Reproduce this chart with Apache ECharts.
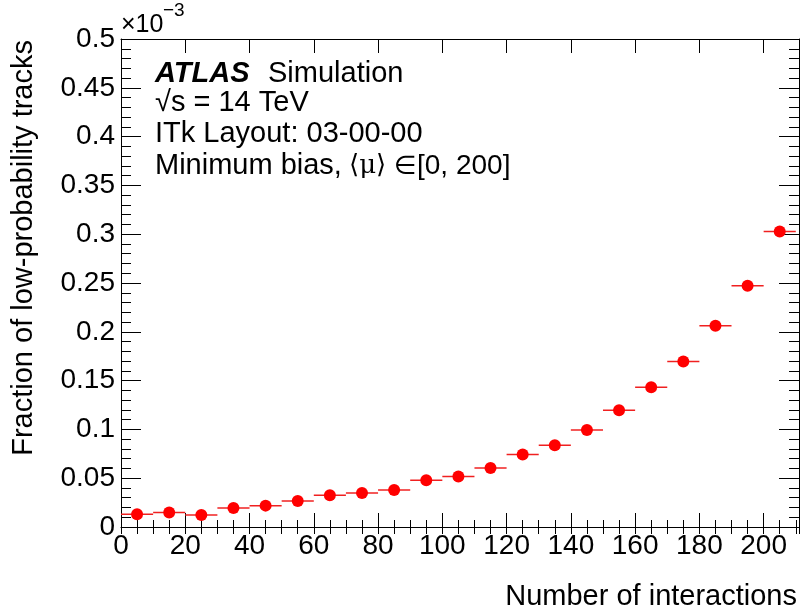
<!DOCTYPE html>
<html>
<head>
<meta charset="utf-8">
<script src="https://cdn.jsdelivr.net/npm/echarts@6/dist/echarts.min.js"></script>
<style>
  html, body { margin: 0; padding: 0; background: #fff; }
  #chart { width: 801px; height: 610px; }
</style>
</head>
<body>
<div id="chart"></div>
<script>
// bin centres (number of interactions), bin half-width, fraction in units of 1e-3
const binCenters = [5, 15, 25, 35, 45, 55, 65, 75, 85, 95, 105, 115, 125, 135, 145, 155, 165, 175, 185, 195, 205];
const binHalfWidth = 5;
const fraction = [0.0130, 0.0148, 0.0123, 0.0195, 0.0219, 0.0267, 0.0325, 0.0349, 0.0379, 0.0479,
                  0.0517, 0.0605, 0.0742, 0.0838, 0.0994, 0.1196, 0.1432, 0.1696, 0.2061, 0.2471, 0.3028];

const FONT = 'Liberation Sans';
const points = binCenters.map(function (x, i) { return [x, fraction[i]]; });

const chart = echarts.init(document.getElementById('chart'), null, { renderer: 'canvas' });

function frameAxis(extra) {
    const base = {
        type: 'value',
        axisLine: { show: true, onZero: false, lineStyle: { color: '#000', width: 1 } },
        axisTick: { show: true, inside: true, lineStyle: { color: '#000', width: 1 } },
        axisLabel: { show: false },
        splitLine: { show: false }
    };
    return Object.assign(base, extra);
}

function txt(x, y, text, font, align, extra) {
    return Object.assign({
        type: 'text', x: x, y: y,
        style: { text: text, fill: '#000', font: font, align: align || 'left', verticalAlign: 'middle' }
    }, extra || {});
}

const option = {
    animation: false,
    backgroundColor: '#fff',
    grid: { left: 121, right: 2, top: 39, bottom: 83 },
    xAxis: [
        frameAxis({
            position: 'bottom', min: 0, max: 211, interval: 20,
            axisTick: { show: true, inside: true, length: 14, lineStyle: { color: '#000' } },
            axisLabel: {
                show: true, margin: 5, color: '#000', fontFamily: FONT, fontSize: 28,
                showMaxLabel: false,
                formatter: function (v) { return v % 20 === 0 ? String(v) : ''; }
            }
        }),
        frameAxis({
            position: 'bottom', min: 0, max: 211, interval: 5,
            axisLine: { show: false },
            axisTick: { show: true, inside: true, length: 7, lineStyle: { color: '#000' } }
        }),
        frameAxis({
            position: 'top', min: 0, max: 211, interval: 20,
            axisTick: { show: true, inside: true, length: 14, lineStyle: { color: '#000' } }
        }),
        frameAxis({
            position: 'top', min: 0, max: 211, interval: 5,
            axisLine: { show: false },
            axisTick: { show: true, inside: true, length: 7, lineStyle: { color: '#000' } }
        })
    ],
    yAxis: [
        frameAxis({
            position: 'left', min: 0, max: 0.5, interval: 0.05,
            axisTick: { show: true, inside: true, length: 20, lineStyle: { color: '#000' } },
            minorTick: { show: true, splitNumber: 5, length: 10, lineStyle: { color: '#000' } },
            axisLabel: {
                show: true, margin: 6, color: '#000', fontFamily: FONT, fontSize: 28,
                formatter: function (v) { return String(+v.toFixed(2)); }
            }
        }),
        frameAxis({
            position: 'right', min: 0, max: 0.5, interval: 0.05,
            axisTick: { show: true, inside: true, length: 20, lineStyle: { color: '#000' } },
            minorTick: { show: true, splitNumber: 5, length: 10, lineStyle: { color: '#000' } }
        })
    ],
    series: [
        {
            type: 'custom',
            xAxisIndex: 0,
            yAxisIndex: 0,
            data: points,
            renderItem: function (params, api) {
                const x = api.value(0), y = api.value(1);
                const a = api.coord([x - binHalfWidth, y]);
                const b = api.coord([x + binHalfWidth, y]);
                return {
                    type: 'line',
                    shape: { x1: a[0], y1: a[1], x2: b[0], y2: b[1] },
                    style: { stroke: '#f02020', lineWidth: 1.5 }
                };
            }
        },
        {
            type: 'scatter',
            xAxisIndex: 0,
            yAxisIndex: 0,
            data: points,
            symbol: 'circle',
            symbolSize: 12,
            itemStyle: { color: '#ff0000', opacity: 1 },
            z: 3
        }
    ],
    graphic: [
        txt(24, 40, 'Fraction of low-probability tracks', '29px "' + FONT + '"', 'right', { rotation: Math.PI / 2 }),
        txt(797, 597, 'Number of interactions', '29px "' + FONT + '"', 'right'),
        txt(121, 25, '×10', '25px "' + FONT + '"'),
        txt(163, 11, '−3', '19px "' + FONT + '"'),
        txt(155, 74, 'ATLAS', 'italic bold 29px "' + FONT + '"'),
        txt(268, 74, 'Simulation', '29px "' + FONT + '"'),
        txt(155, 103, '√s = 14 TeV', '29px "' + FONT + '"'),
        txt(155, 134, 'ITk Layout: 03-00-00', '29px "' + FONT + '"'),
        txt(155, 166, 'Minimum bias,', '29px "' + FONT + '"'),
        txt(349, 166, '⟨μ⟩', '26px "DejaVu Serif"'),
        txt(394, 167, '∈', '26px "DejaVu Sans"'),
        txt(417, 166, '[0, 200]', '28px "' + FONT + '"')
    ]
};

chart.setOption(option);
</script>
</body>
</html>
